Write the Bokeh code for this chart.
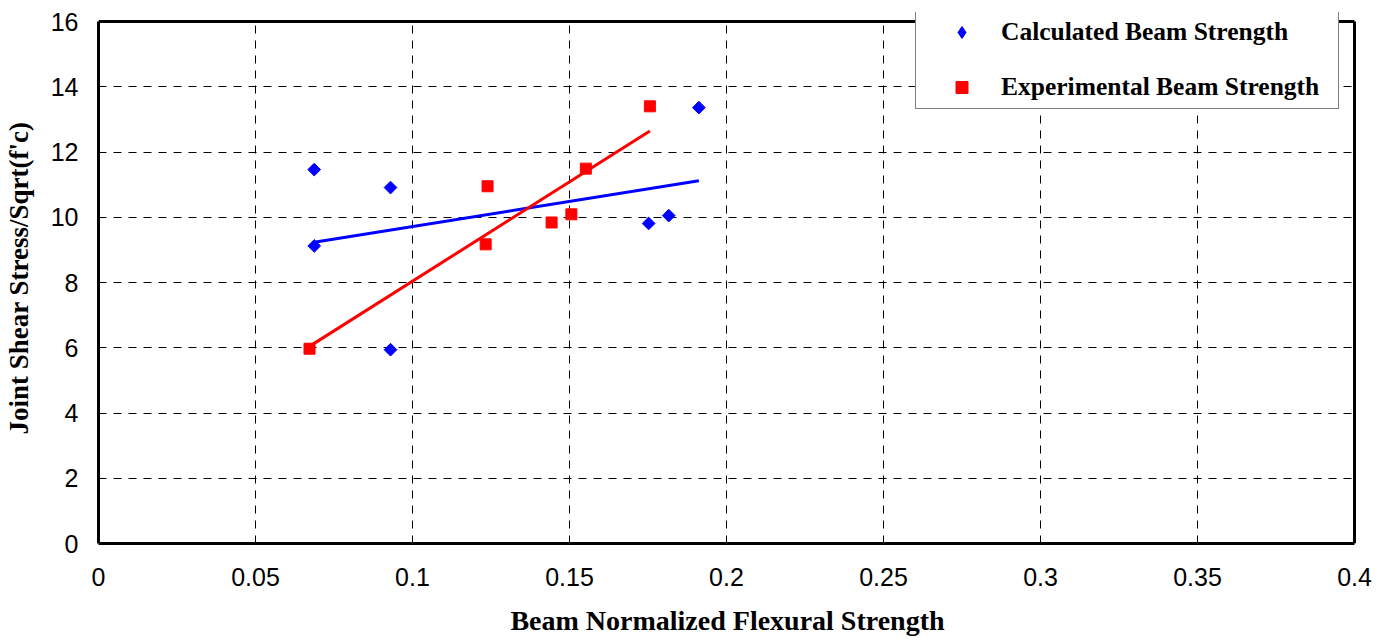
import numpy as np
from bokeh.plotting import figure
from bokeh.models import Range1d, FixedTicker, Legend, LegendItem
from bokeh.embed import file_html
from bokeh.resources import INLINE

# ---- data ----
calc_x = [0.0687, 0.0930, 0.0687, 0.0930, 0.1752, 0.1816, 0.1912]
calc_y = [11.46, 10.91, 9.12, 5.94, 9.81, 10.05, 13.36]

exp_x = [0.0672, 0.1239, 0.1233, 0.1443, 0.1506, 0.1552, 0.1756]
exp_y = [5.97, 10.95, 9.17, 9.84, 10.09, 11.49, 13.40]

x_ticks = [0, 0.05, 0.1, 0.15, 0.2, 0.25, 0.3, 0.35, 0.4]
x_tick_labels = ["0", "0.05", "0.1", "0.15", "0.2", "0.25", "0.3", "0.35", "0.4"]
y_ticks = [0, 2, 4, 6, 8, 10, 12, 14, 16]

series_names = ["Calculated Beam Strength", "Experimental Beam Strength"]
x_title = "Beam Normalized Flexural Strength"
y_title = "Joint Shear Stress/Sqrt(f'c)"

# ---- layout (pixels) ----
W, H = 1372, 642
BL, BT, BB = 96, 12, 99
AXW, AXH = 1258, 522                       # size of the boxed plot area
FW, FH = AXW + 2, H - BT - BB              # frame size
BR = W - BL - FW
x0, x1 = x_ticks[0], x_ticks[-1]
y0, y1 = y_ticks[0], y_ticks[-1]

p = figure(width=W, height=H,
           x_range=Range1d(x0, x1 * FW / AXW), y_range=Range1d(y0, y1 * FH / AXH),
           output_backend="svg", toolbar_location=None,
           min_border_left=BL, min_border_right=BR, min_border_top=BT, min_border_bottom=BB)
p.background_fill_color = "white"
p.border_fill_color = "white"
p.outline_line_color = None

p.xaxis.ticker = FixedTicker(ticks=x_ticks)
p.yaxis.ticker = FixedTicker(ticks=y_ticks)
p.xaxis.major_label_overrides = {t: l for t, l in zip(x_ticks, x_tick_labels)}
p.xaxis.bounds = (x0, x1)
p.yaxis.bounds = (y0, y1)

for ax in (p.xaxis[0], p.yaxis[0]):
    ax.axis_line_color = "black"
    ax.axis_line_width = 3
    ax.major_tick_line_color = None
    ax.minor_tick_line_color = None
    ax.major_tick_out = 0
    ax.major_tick_in = 0
    ax.major_label_text_font = "Liberation Sans"
    ax.major_label_text_font_size = "25px"
    ax.major_label_text_color = "black"
    ax.axis_label_text_font = "Liberation Serif"
    ax.axis_label_text_font_style = "bold"
    ax.axis_label_text_color = "black"

p.xaxis.axis_label = x_title
p.yaxis.axis_label = y_title
p.xaxis.axis_label_text_font_size = "28px"
p.yaxis.axis_label_text_font_size = "27px"
p.xaxis.major_label_standoff = 24
p.xaxis.axis_label_standoff = 16
p.yaxis.major_label_standoff = 20
p.yaxis.axis_label_standoff = 14

for g in (p.xgrid[0], p.ygrid[0]):
    g.grid_line_color = "black"
    g.grid_line_width = 1
    g.grid_line_dash = "8 7"
p.xgrid[0].cross_bounds = (y0, y1)
p.ygrid[0].cross_bounds = (x0, x1)

# top and right border of the boxed area
p.segment(x0=[x0, x1], y0=[y1, y0], x1=[x1, x1], y1=[y1, y1],
          line_color="black", line_width=3)

# ---- trend lines (least squares fit of each series) ----
def trend(xs, ys):
    k, b = np.polyfit(xs, ys, 1)
    xx = np.array([min(xs), max(xs)])
    return xx, k * xx + b

tx, ty = trend(calc_x, calc_y)
p.line(tx, ty, line_color="#0000FF", line_width=3)
tx, ty = trend(exp_x, exp_y)
p.line(tx, ty, line_color="#FF0000", line_width=3)

# ---- markers ----
# diamond glyphs used for the legend swatch; drawn small and fully covered by the
# rotated squares below (legend swatches are drawn unrotated)
r_calc_key = p.scatter(calc_x, calc_y, marker="diamond", size=7,
                       fill_color="#0000FF", line_color="#0000FF")
r_calc = p.scatter(calc_x, calc_y, marker="square", angle=np.pi / 4, size=9,
                   fill_color="#0000FF", line_color="#0000FF")
r_exp = p.scatter(exp_x, exp_y, marker="square", size=11,
                  fill_color="#FF0000", line_color="#FF0000")

legend = Legend(items=[LegendItem(label=series_names[0], renderers=[r_calc_key]),
                       LegendItem(label=series_names[1], renderers=[r_exp])],
                location=(817, AXH - 109 + 21), margin=0, padding=6, spacing=25,
                glyph_width=79, glyph_height=30, label_height=30, label_width=331,
                label_standoff=0,
                label_text_font="Liberation Serif", label_text_font_style="bold",
                label_text_font_size="25.5px", label_text_color="black",
                border_line_color="black", border_line_width=1,
                background_fill_color="white", background_fill_alpha=1)
p.add_layout(legend, "center")

open("out.html", "w").write(file_html(p, INLINE))
